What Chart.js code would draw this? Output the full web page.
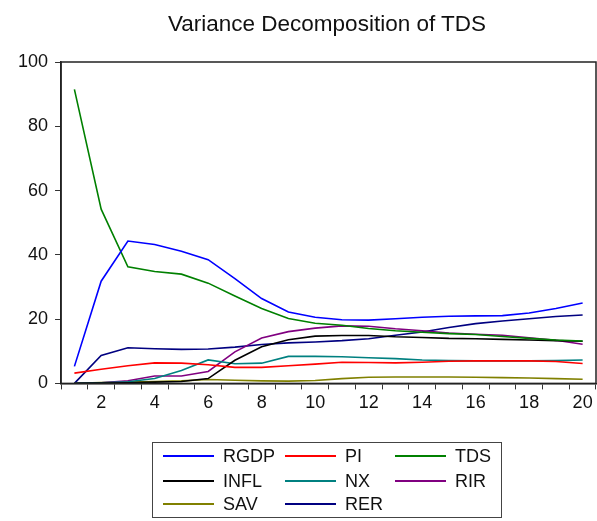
<!DOCTYPE html>
<html>
<head>
<meta charset="utf-8">
<script src="https://cdn.jsdelivr.net/npm/chart.js@4/dist/chart.umd.min.js"></script>
<style>
  body{margin:0;background:#fff;}
  #wrap{position:relative;width:597px;height:521px;}
  #c{position:absolute;left:0;top:0;}
  #title{position:absolute;left:127px;width:400px;top:10px;text-align:center;
    font-family:"Liberation Sans",Arial,sans-serif;font-size:22.5px;color:#111;line-height:28px;}
  #legend{position:absolute;left:152px;top:442px;width:350px;height:76px;border:1px solid #444;box-sizing:border-box;
    font-family:"Liberation Sans",Arial,sans-serif;font-size:18px;color:#111;}
  .li{position:absolute;display:flex;align-items:center;height:22px;}
  .li span.sw{display:inline-block;width:51px;height:2px;margin-right:9px;}
</style>
</head>
<body>
<div id="wrap">
  <canvas id="c" width="597" height="521"></canvas>
  <div id="title">Variance Decomposition of TDS</div>
  <div id="legend"></div>
</div>
<script>
// ===================== DATA =====================
const periods = [1,2,3,4,5,6,7,8,9,10,11,12,13,14,15,16,17,18,19,20];
const yTicks  = [0,20,40,60,80,100];

const rgdp = [5.3,31.8,44.3,43.2,41.1,38.5,32.6,26.4,22.2,20.6,19.8,19.7,20.1,20.6,20.9,21.0,21.1,21.9,23.3,25.0];
const pi   = [3.2,4.4,5.5,6.4,6.3,5.8,5.0,5.0,5.5,6.0,6.6,6.5,6.4,6.6,6.9,7.0,7.0,7.0,6.8,6.2];
const tds  = [91.5,54.2,36.3,34.8,34.0,31.2,27.2,23.3,20.2,18.7,18.1,17.1,16.4,15.9,15.5,15.2,14.6,14.0,13.5,13.2];
const infl = [0,0.1,0.2,0.4,0.6,1.5,7.2,11.4,13.6,14.7,14.9,14.9,14.5,14.3,14.0,13.9,13.7,13.5,13.3,13.1];
const nx   = [0,0.2,0.5,1.5,4.0,7.3,6.1,6.3,8.4,8.4,8.3,8.0,7.7,7.3,7.1,7.0,7.0,7.0,7.1,7.3];
const rir  = [0,0.2,0.8,2.3,2.3,3.7,9.8,14.1,16.1,17.2,17.9,17.8,17.0,16.4,15.7,15.3,15.0,14.2,13.4,12.2];
const sav  = [0,0.3,0.4,0.6,0.8,1.2,1.0,0.8,0.7,0.9,1.5,1.9,2.0,2.0,2.0,1.9,1.8,1.7,1.5,1.3];
const rer  = [0,8.7,11.1,10.8,10.6,10.7,11.3,12.1,12.6,12.9,13.3,13.9,15.0,16.0,17.4,18.6,19.4,20.1,20.8,21.3];

const seriesNames  = ['RGDP','PI','TDS','INFL','NX','RIR','SAV','RER'];
const seriesData   = [rgdp,pi,tds,infl,nx,rir,sav,rer];
const seriesColors = ['#0000ff','#ff0000','#008000','#000000','#008080','#800080','#808000','#000080'];

const FONT = '"Liberation Sans", Arial, sans-serif';

// caixa em volta da área do gráfico
const frameBox = {
  id:'frameBox',
  afterDraw(chart){
    const a = chart.chartArea, ctx = chart.ctx;
    ctx.save();
    ctx.strokeStyle = '#222';
    ctx.lineWidth = 1.5;
    ctx.strokeRect(a.left, a.top, a.right-a.left, a.bottom-a.top);
    ctx.restore();
  }
};

const chart = new Chart(document.getElementById('c').getContext('2d'),{
  type:'line',
  data:{
    labels:periods,
    datasets:seriesNames.map((n,i)=>({label:n,data:seriesData[i],borderColor:seriesColors[i],backgroundColor:seriesColors[i],
      borderWidth:1.6,pointRadius:0,tension:0,fill:false}))
  },
  options:{
    responsive:false,animation:false,
    layout:{padding:{left:11,right:1,top:62,bottom:104}},
    plugins:{
      legend:{display:false},
      tooltip:{enabled:false},
      title:{display:false}
    },
    scales:{
      x:{type:'category',offset:true,
        grid:{offset:true,drawOnChartArea:false,drawTicks:true,tickLength:6,color:'#333'},
        border:{color:'#222',width:1.5},
        ticks:{autoSkip:false,maxRotation:0,color:'#111',padding:3,font:{family:FONT,size:18},
          callback:function(v){ const p=periods[v]; return p%2===0 ? String(p) : ''; }}},
      y:{min:0,max:100,
        afterBuildTicks:ax=>{ ax.ticks = yTicks.map(v=>({value:v})); },
        grid:{drawOnChartArea:false,drawTicks:true,tickLength:6,color:'#333'},
        border:{color:'#222',width:1.5},
        ticks:{color:'#111',padding:7,font:{family:FONT,size:18}}}
    }
  },
  plugins:[frameBox]
});

// legenda em 3 colunas, como no original
function renderLegend(){
  const colX = [10,132,242];
  const rowY = [2,27,50];
  const el = document.getElementById('legend');
  el.innerHTML = chart.data.datasets.map((d,i)=>{
    const c=i%3, r=Math.floor(i/3);
    return `<div class="li" style="left:${colX[c]}px;top:${rowY[r]}px"><span class="sw" style="background:${d.borderColor}"></span>${d.label}</div>`;
  }).join('');
}
renderLegend();
</script>
</body>
</html>
